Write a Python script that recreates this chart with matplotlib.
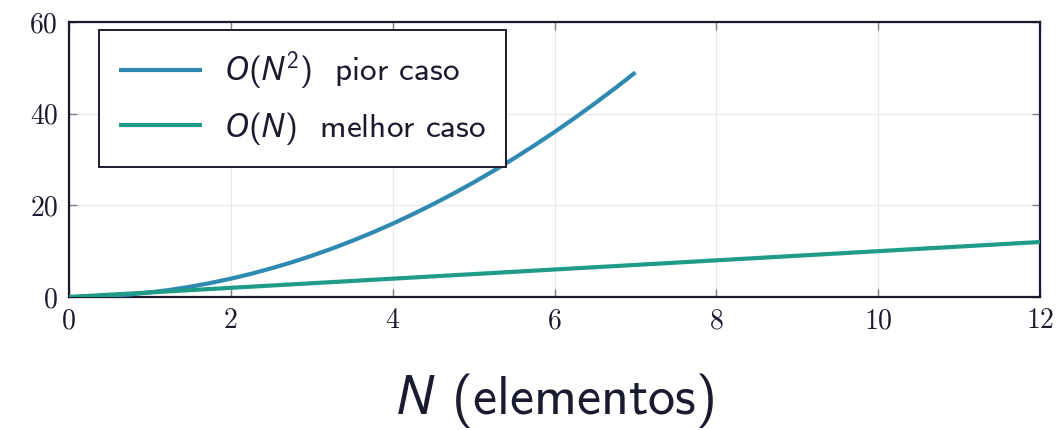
import matplotlib
matplotlib.use("Agg")
import matplotlib.pyplot as plt

# values
n_quad = [0, 0.25, 0.5, 0.75, 1, 1.25, 1.5, 1.75, 2, 2.25, 2.5, 2.75, 3, 3.25, 3.5, 3.75,
          4, 4.25, 4.5, 4.75, 5, 5.25, 5.5, 5.75, 6, 6.25, 6.5, 6.75, 7]
ops_quad = [0, 0.06, 0.25, 0.56, 1, 1.56, 2.25, 3.06, 4, 5.06, 6.25, 7.56, 9, 10.56, 12.25, 14.06,
            16, 18.06, 20.25, 22.56, 25, 27.56, 30.25, 33.06, 36, 39.06, 42.25, 45.56, 49]
n_lin = [0, 2, 4, 6, 8, 10, 12]
ops_lin = [0, 2, 4, 6, 8, 10, 12]
x_ticks = [0, 2, 4, 6, 8, 10, 12]
y_ticks = [0, 20, 40, 60]
labels = [r"$O(N^2)$  pior caso", r"$O(N)$  melhor caso"]

ink = "#1b1b2f"
blue = "#2f8ab2"
green = "#1f9c87"

plt.rcParams["mathtext.fontset"] = "custom"
plt.rcParams["mathtext.rm"] = "cmss10"
plt.rcParams["mathtext.it"] = "Noto Sans:italic"
plt.rcParams["mathtext.sf"] = "cmss10"
plt.rcParams["axes.unicode_minus"] = False

fig = plt.figure(figsize=(10.61, 4.30), dpi=100)
ax = fig.add_axes([69 / 1061, 1 - 297 / 430, (1040 - 69) / 1061, (297 - 22) / 430])

ax.plot(n_quad, ops_quad, color=blue, lw=3, label=labels[0], solid_capstyle="butt", zorder=3)
ax.plot(n_lin, ops_lin, color=green, lw=3, label=labels[1], solid_capstyle="butt", zorder=3)

ax.set_xlim(0, 12)
ax.set_ylim(0, 60)
ax.set_xticks(x_ticks)
ax.set_yticks(y_ticks)
ax.set_xticklabels([str(t) for t in x_ticks], fontfamily="cmr10", fontsize=20, color=ink)
ax.set_yticklabels([str(t) for t in y_ticks], fontfamily="cmr10", fontsize=20, color=ink)
ax.tick_params(direction="in", length=6, width=1, color="#808080",
               top=True, right=True, pad=8)
ax.grid(True, color="#e8e8e8", lw=0.9, zorder=0)
for s in ax.spines.values():
    s.set_color(ink)
    s.set_linewidth(1.6)

ax.set_xlabel(r"$N$ (elementos)", fontfamily="cmss10", fontsize=39, color=ink, labelpad=26)

leg = ax.legend(loc="upper left", bbox_to_anchor=(0.031, 0.971), borderaxespad=0,
                fancybox=False, edgecolor=ink, framealpha=1, handlelength=2.5,
                handletextpad=0.65, borderpad=0.6, labelspacing=0.5,
                prop={"family": "cmss10", "size": 24})
leg.get_frame().set_linewidth(1.4)
for t in leg.get_texts():
    t.set_color(ink)

fig.savefig("out.png", dpi=100)
